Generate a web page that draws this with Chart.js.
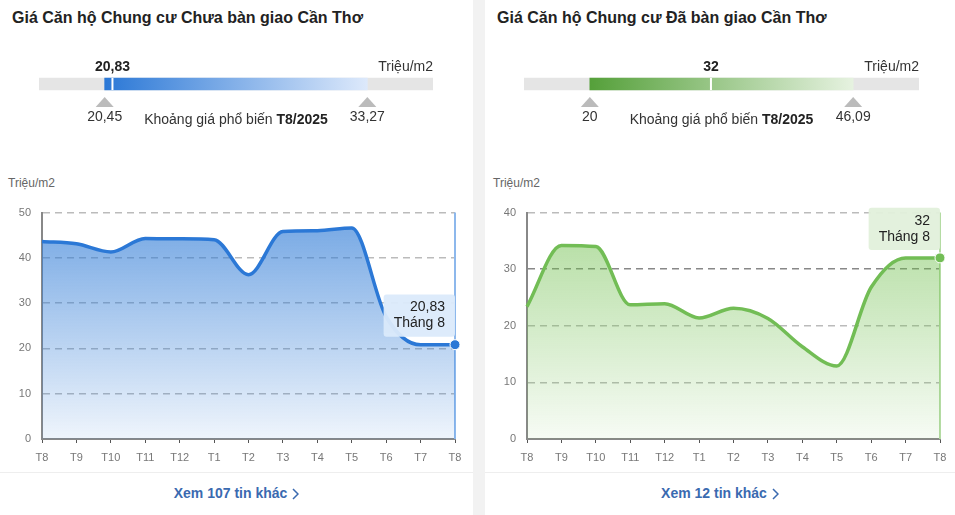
<!DOCTYPE html>
<html>
<head>
<meta charset="utf-8">
<script src="https://cdn.jsdelivr.net/npm/chart.js@4.4.0/dist/chart.umd.min.js"></script>
<style>
  body { margin: 0; width: 955px; height: 515px; background: #fff; font-family: Arial, "Liberation Sans", sans-serif; position: relative; overflow: hidden; }
  .gap { position: absolute; left: 473px; top: 0; width: 12px; height: 515px; background: #f2f2f2; }
  .panel { position: absolute; top: 0; height: 515px; }
  .title { position: absolute; left: 12px; top: 9px; font-size: 16px; font-weight: bold; color: #222; white-space: nowrap; }
  .unit { position: absolute; left: 8px; top: 176px; font-size: 12px; color: #666; }
  .sep { position: absolute; left: 0; right: 0; top: 472px; border-top: 1px solid #eee; }
  .more { position: absolute; left: 0; right: 0; top: 485px; text-align: center; font-size: 14px; font-weight: bold; color: #3a6ab0; }
  .more svg { vertical-align: -2px; margin-left: 5px; }
  canvas { position: absolute; left: 0; }
</style>
</head>
<body>
<div class="gap"></div>

<div class="panel" style="left:0;width:473px">
  <div class="title">Giá Căn hộ Chung cư Chưa bàn giao Cần Thơ</div>
  <canvas id="rangeChua" width="473" height="80" style="top:50px"></canvas>
  <div class="unit">Triệu/m2</div>
  <canvas id="chartChua" width="473" height="274" style="top:195px"></canvas>
  <div class="sep"></div>
  <div class="more">Xem 107 tin khác<svg width="7" height="12"><polyline points="1,1 6,6 1,11" fill="none" stroke="#3a6ab0" stroke-width="1.5"/></svg></div>
</div>

<div class="panel" style="left:485px;width:470px">
  <div class="title">Giá Căn hộ Chung cư Đã bàn giao Cần Thơ</div>
  <canvas id="rangeDa" width="470" height="80" style="top:50px"></canvas>
  <div class="unit">Triệu/m2</div>
  <canvas id="chartDa" width="470" height="274" style="top:195px"></canvas>
  <div class="sep"></div>
  <div class="more">Xem 12 tin khác<svg width="7" height="12"><polyline points="1,1 6,6 1,11" fill="none" stroke="#3a6ab0" stroke-width="1.5"/></svg></div>
</div>

<script>
var months = ["T8", "T9", "T10", "T11", "T12", "T1", "T2", "T3", "T4", "T5", "T6", "T7", "T8"];
var giaChuaBanGiao = [43.6, 43.1, 41.3, 44.3, 44.2, 44.0, 36.3, 45.8, 46.0, 46.6, 27.0, 20.8, 20.83];
var giaDaBanGiao = [23.4, 34.2, 34.0, 23.7, 23.9, 21.4, 23.1, 21.3, 16.3, 12.9, 26.8, 32.0, 32];
var khoangChua = [20.45, 33.27];
var hienTaiChua = 20.83;
var khoangDa = [20, 46.09];
var hienTaiDa = 32;
var kyBaoCao = "T8/2025";

Chart.defaults.font.family = 'Arial, "Liberation Sans", sans-serif';
Chart.defaults.animation = false;

function vn(v) {
  return String(v).replace(".", ",");
}

// ---- range bar on top ----
var rangeMarks = {
  id: "rangeMarks",
  afterDatasetsDraw: function (chart, args, o) {
    var ctx = chart.ctx, x = chart.scales.x, a = chart.chartArea;
    var bar = chart.getDatasetMeta(0).data[0];
    var top = bar.y - 6, bottom = bar.y + 6;
    var lo = x.getPixelForValue(o.low), hi = x.getPixelForValue(o.high), cur = x.getPixelForValue(o.current);
    ctx.save();
    ctx.fillStyle = "#fff";
    ctx.fillRect(cur - 1, top, 2, bottom - top);

    ctx.textBaseline = "middle";
    ctx.fillStyle = "#222";
    ctx.font = "bold 14px Arial";
    ctx.textAlign = "center";
    ctx.fillText(vn(o.current), cur, 17);
    ctx.font = "14px Arial";
    ctx.fillStyle = "#333";
    ctx.textAlign = "right";
    ctx.fillText("Triệu/m2", a.right, 17);

    [lo, hi].forEach(function (px, i) {
      ctx.fillStyle = "#bbb";
      ctx.beginPath();
      ctx.moveTo(px, bottom + 7);
      ctx.lineTo(px + 9, bottom + 17);
      ctx.lineTo(px - 9, bottom + 17);
      ctx.closePath();
      ctx.fill();
      ctx.fillStyle = "#333";
      ctx.font = "14px Arial";
      ctx.textAlign = "center";
      ctx.fillText(vn(i === 0 ? o.low : o.high), px, 67);
    });

    var t1 = "Khoảng giá phổ biến ", t2 = o.period;
    ctx.font = "14px Arial";
    var w1 = ctx.measureText(t1).width;
    ctx.font = "bold 14px Arial";
    var w2 = ctx.measureText(t2).width;
    var sx = (a.left + a.right) / 2 - (w1 + w2) / 2;
    ctx.textAlign = "left";
    ctx.fillStyle = "#333";
    ctx.font = "14px Arial";
    ctx.fillText(t1, sx, 70);
    ctx.fillStyle = "#222";
    ctx.font = "bold 14px Arial";
    ctx.fillText(t2, sx + w1, 70);
    ctx.restore();
  }
};

function makeRange(id, range, current, c1, c2, padRight) {
  var span = range[1] - range[0];
  var lo = range[0] - span * 0.25, hi = range[1] + span * 0.25;
  return new Chart(document.getElementById(id).getContext("2d"), {
    type: "bar",
    data: {
      labels: [""],
      datasets: [
        {
          data: [[range[0], range[1]]],
          backgroundColor: function (c) {
            var x = c.chart.scales.x;
            if (!x || !c.chart.chartArea) return c1;
            var p0 = x.getPixelForValue(range[0]), p1 = x.getPixelForValue(range[1]);
            if (!isFinite(p0) || !isFinite(p1)) return c1;
            var g = c.chart.ctx.createLinearGradient(p0, 0, p1, 0);
            g.addColorStop(0, c1);
            g.addColorStop(1, c2);
            return g;
          },
          barThickness: 12,
          grouped: false,
          order: 1,
        },
        {
          data: [[lo, hi]],
          backgroundColor: "#e5e5e5",
          barThickness: 12,
          grouped: false,
          order: 2,
        },
      ],
    },
    options: {
      responsive: false,
      indexAxis: "y",
      layout: { padding: { left: 39, right: padRight, top: 24, bottom: 36 } },
      scales: {
        x: { type: "linear", min: lo, max: hi, display: false },
        y: { display: false },
      },
      plugins: {
        legend: { display: false },
        tooltip: { enabled: false },
        rangeMarks: { low: range[0], high: range[1], current: current, period: kyBaoCao },
      },
    },
    plugins: [rangeMarks],
  });
}

makeRange("rangeChua", khoangChua, hienTaiChua, "#2b78d6", "#dde9fb", 40);
makeRange("rangeDa", khoangDa, hienTaiDa, "#55a03a", "#e6f2e0", 36);

// ---- line charts ----
Chart.Tooltip.positioners.lastPoint = function (items) {
  if (!items.length) return false;
  var el = items[0].element;
  // chart.js pushes a right-aligned box by cornerRadius + caretSize
  return { x: el.x - 3, y: el.y, xAlign: "right", yAlign: "bottom" };
};

var hoverLine = {
  id: "hoverLine",
  beforeDatasetsDraw: function (chart, args, o) {
    var meta = chart.getDatasetMeta(0);
    var pt = meta.data[meta.data.length - 1];
    var a = chart.chartArea, ctx = chart.ctx;
    ctx.save();
    ctx.strokeStyle = o.color;
    ctx.lineWidth = 2;
    ctx.beginPath();
    ctx.moveTo(pt.x, a.top);
    ctx.lineTo(pt.x, a.bottom);
    ctx.stroke();
    ctx.restore();
  }
};

function makeLine(id, values, yMax, rgb, lineColor, tipBg, a1, a2, padRight, darkTick) {
  var last = values.length - 1;
  var chart = new Chart(document.getElementById(id).getContext("2d"), {
    type: "line",
    data: {
      labels: months,
      datasets: [
        {
          data: values,
          borderColor: lineColor,
          borderWidth: 3.5,
          cubicInterpolationMode: "monotone",
          fill: "origin",
          backgroundColor: function (c) {
            var area = c.chart.chartArea;
            if (!area || !isFinite(area.top) || !isFinite(area.bottom)) return "rgba(" + rgb + "," + a1 + ")";
            var g = c.chart.ctx.createLinearGradient(0, area.top, 0, area.bottom);
            g.addColorStop(0, "rgba(" + rgb + "," + a1 + ")");
            g.addColorStop(1, "rgba(" + rgb + "," + a2 + ")");
            return g;
          },
          pointRadius: function (c) { return c.dataIndex === last ? 5 : 0; },
          pointHoverRadius: 5,
          pointBackgroundColor: lineColor,
          pointBorderColor: "#fff",
          pointBorderWidth: 1,
          pointHoverBackgroundColor: lineColor,
          pointHoverBorderColor: "#fff",
          pointHoverBorderWidth: 1,
        },
      ],
    },
    options: {
      responsive: false,
      events: [],
      layout: { padding: { top: 17, right: padRight, left: 0, bottom: 0 } },
      scales: {
        x: {
          afterFit: function (s) { s.height = 30; },
          grid: { display: true, drawOnChartArea: false, drawTicks: true, tickLength: 4, color: "#555" },
          border: { display: true, color: "#888", width: 2 },
          ticks: { color: "#777", font: { size: 11 }, padding: 8, maxRotation: 0, autoSkip: false },
        },
        y: {
          min: 0,
          max: yMax,
          afterFit: function (s) { s.width = 42; },
          grid: {
            drawTicks: false,
            color: function (c) { return c.tick && c.tick.value === darkTick ? "#888" : "#bbb"; },
            lineWidth: 1.5,
          },
          border: { display: true, color: "#888", width: 2, dash: [7, 5] },
          ticks: { stepSize: 10, color: "#777", font: { size: 11 }, padding: 11 },
        },
      },
      plugins: {
        legend: { display: false },
        hoverLine: { color: tipBg.line },
        tooltip: {
          position: "lastPoint",
          backgroundColor: tipBg.box,
          bodyColor: "#222",
          bodyFont: { size: 14, lineHeight: 1.15 },
          bodyAlign: "right",
          bodySpacing: 0,
          padding: { top: 5, bottom: 5, left: 10, right: 10 },
          caretSize: 0,
          caretPadding: 8,
          cornerRadius: 3,
          displayColors: false,
          callbacks: {
            title: function () { return ""; },
            label: function (c) {
              return [vn(c.parsed.y), "Tháng " + c.label.slice(1)];
            },
          },
        },
      },
    },
    plugins: [hoverLine],
  });
  var active = [{ datasetIndex: 0, index: last }];
  var el = chart.getDatasetMeta(0).data[last];
  chart.setActiveElements(active);
  chart.tooltip.setActiveElements(active, { x: el.x, y: el.y });
  chart.update();
  return chart;
}

makeLine("chartChua", giaChuaBanGiao, 50, "47,123,214", "#2b78d6",
  { box: "rgba(219,234,251,0.95)", line: "#8db8ec" }, 0.68, 0.08, 18, null);
makeLine("chartDa", giaDaBanGiao, 40, "110,190,75", "#72bd55",
  { box: "rgba(226,240,219,0.95)", line: "#b4dba3" }, 0.55, 0.06, 15, 30);
</script>
</body>
</html>
